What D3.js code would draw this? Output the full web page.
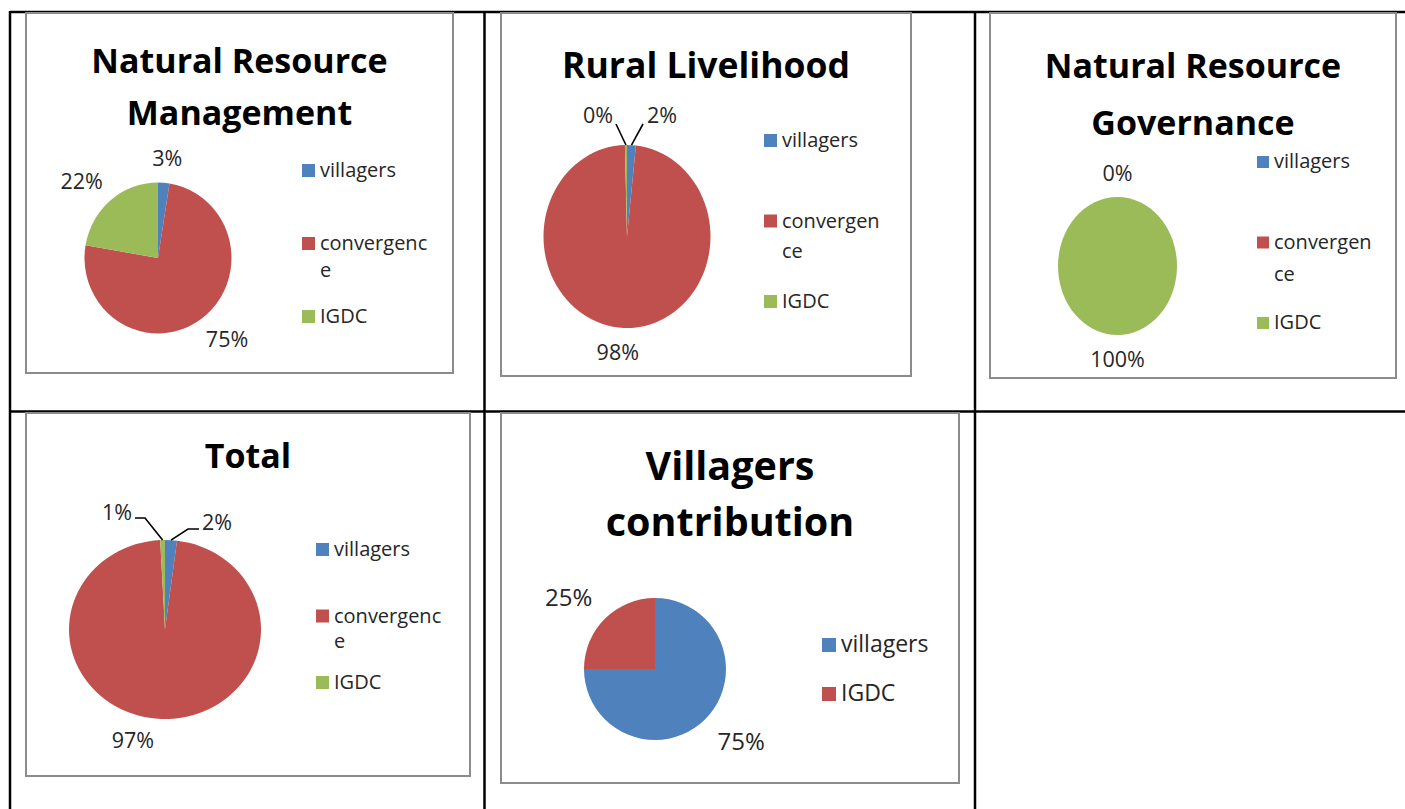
<!DOCTYPE html>
<html>
<head>
<meta charset="utf-8">
<script src="https://cdnjs.cloudflare.com/ajax/libs/d3/7.8.5/d3.min.js"></script>
<style>
  body { margin: 0; background: #fff; }
  svg { display: block; }
  text { font-family: "Open Sans", sans-serif; }
</style>
</head>
<body>
<svg id="chart" width="1405" height="809"></svg>
<script>
// shares, in %
var categories3 = ["villagers", "convergence", "IGDC"];
var categories2 = ["villagers", "IGDC"];
var nrmValues = [2.5, 75.2, 22.3];
var ruralValues = [1.7, 97.9, 0.4];
var nrgValues = [0, 0, 100];
var totalValues = [2.0, 97.2, 0.8];
var villagersValues = [75, 25];
var titles = [
    ["Natural Resource", "Management"],
    ["Rural Livelihood"],
    ["Natural Resource", "Governance"],
    ["Total"],
    ["Villagers", "contribution"]
];
var palette = ["#4F81BD", "#C0504D", "#9BBB59"];

// layout of each panel (boxes, pie centres, legend spots)
var panels = [
    { cats: categories3, values: nrmValues, title: titles[0],
      box: [26, 13, 453, 373], cx: 158, cy: 258, rx: 73.5, ry: 75.5,
      titleY: 73, titleStep: 52, titleSize: 34, pad: 17, labelSize: 21.5,
      legend: { x: 302, y: 177, step: 73, lineH: 27, wrap: 10, size: 20, box: 13 } },
    { cats: categories3, values: ruralValues, title: titles[1],
      box: [501, 13, 911, 376], cx: 627, cy: 236.5, rx: 83.5, ry: 91.5,
      titleY: 78, titleStep: 52, titleSize: 35.5, pad: 16, labelSize: 21.5,
      legend: { x: 764, y: 147, step: 80.5, lineH: 30, wrap: 9, size: 20, box: 13 },
      labels: {
          0: { dx: 35, dy: -121.5, leader: [[-19, 9]] },
          1: { nudge: [-4, 0] },
          2: { dx: -29, dy: -121.5, leader: [[18, 9]] }
      } },
    { cats: categories3, values: nrgValues, title: titles[2],
      box: [990, 13, 1396, 378], cx: 1117.5, cy: 266, rx: 59.5, ry: 69,
      titleY: 78, titleStep: 57, titleSize: 34, pad: 16, labelSize: 21.5,
      legend: { x: 1257, y: 168, step: 80.5, lineH: 32, wrap: 9, size: 20, box: 12 } },
    { cats: categories3, values: totalValues, title: titles[3],
      box: [26, 413, 470, 776], cx: 165, cy: 629.5, rx: 96, ry: 89.5,
      titleY: 468, titleStep: 52, titleSize: 34, pad: 13, labelSize: 21.5,
      legend: { x: 316, y: 556, step: 66.5, lineH: 25, wrap: 10, size: 20, box: 13 },
      labels: {
          0: { dx: 52, dy: -107.5, leader: [[-29, 7], [-18, 7]] },
          1: { nudge: [-27, 0] },
          2: { dx: -48, dy: -117.5, leader: [[28, 6], [18, 6]] }
      } },
    { cats: categories2, values: villagersValues, title: titles[4],
      box: [501, 413, 959, 783], cx: 655, cy: 669, rx: 71, ry: 71,
      titleY: 480, titleStep: 56, titleSize: 39.5, pad: 23, labelSize: 24,
      legend: { x: 822, y: 652, step: 49, lineH: 28, wrap: 12, size: 23, box: 14 } }
];

var svg = d3.select("#chart");

// table grid
var grid = svg.append("g").attr("class", "grid")
    .attr("stroke", "#000").attr("stroke-width", 2.5);
grid.append("line").attr("x1", 10).attr("x2", 1405).attr("y1", 12).attr("y2", 12);
grid.append("line").attr("x1", 10).attr("x2", 1405).attr("y1", 411.5).attr("y2", 411.5);
[10, 484.5, 975].forEach(function(x) {
    grid.append("line").attr("x1", x).attr("x2", x).attr("y1", 11).attr("y2", 809);
});

var pie = d3.pie().sort(null).value(function(d) { return d.value; });

panels.forEach(function(p) {
    var g = svg.append("g");
    var b = p.box;

    g.append("rect")
        .attr("x", b[0]).attr("y", b[1])
        .attr("width", b[2] - b[0]).attr("height", b[3] - b[1])
        .attr("fill", "#fff").attr("stroke", "#8c8c8c").attr("stroke-width", 2);

    // title
    var midX = (b[0] + b[2]) / 2;
    g.selectAll("text.title")
        .data(p.title)
        .enter().append("text")
        .attr("class", "title")
        .attr("x", midX)
        .attr("y", function(d, i) { return p.titleY + i * p.titleStep; })
        .attr("text-anchor", "middle")
        .attr("font-weight", 700)
        .attr("font-size", p.titleSize)
        .attr("fill", "#000")
        .text(function(d) { return d; });

    var rows = p.cats.map(function(c, i) { return { name: c, value: p.values[i], idx: i }; });
    var total = d3.sum(rows, function(d) { return d.value; });
    var arcs = pie(rows);

    var arc = d3.arc().innerRadius(0).outerRadius(p.rx);
    g.append("g")
        .attr("transform", "translate(" + p.cx + "," + p.cy + ") scale(1," + (p.ry / p.rx) + ")")
        .selectAll("path")
        .data(arcs)
        .enter().append("path")
        .attr("d", arc)
        .attr("fill", function(d) { return palette[d.data.idx]; });

    // data labels (labels that land on the same spot are drawn once)
    var over = p.labels || {};
    var seen = {};
    arcs.forEach(function(a) {
        var mid = (a.startAngle + a.endAngle) / 2;
        var s = Math.sin(mid), c = Math.cos(mid);
        var o = over[a.data.idx] || {};
        var lx, ly;
        if (o.dx !== undefined) {
            lx = p.cx + o.dx;
            ly = p.cy + o.dy;
        } else {
            lx = p.cx + (p.rx + p.pad + 28) * s;
            ly = p.cy - (p.ry + p.pad + 8) * c;
            if (o.nudge) { lx += o.nudge[0]; ly += o.nudge[1]; }
        }
        var txt = Math.round(a.data.value / total * 100) + "%";
        var key = txt + "@" + Math.round(lx) + "," + Math.round(ly);
        if (seen[key]) return;
        seen[key] = true;

        g.append("text")
            .attr("x", lx).attr("y", ly).attr("dy", "0.36em")
            .attr("text-anchor", "middle")
            .attr("font-size", p.labelSize)
            .attr("fill", "#262626")
            .text(txt);

        if (o.leader) {
            var pts = [[p.cx + p.rx * s, p.cy - p.ry * c]];
            o.leader.forEach(function(q) { pts.push([lx + q[0], ly + q[1]]); });
            g.append("path")
                .attr("d", d3.line()(pts))
                .attr("fill", "none")
                .attr("stroke", "#000")
                .attr("stroke-width", 1.6);
        }
    });

    // legend
    var L = p.legend;
    var items = g.selectAll("g.legend")
        .data(rows)
        .enter().append("g")
        .attr("class", "legend")
        .attr("transform", function(d, i) { return "translate(" + L.x + "," + (L.y + i * L.step) + ")"; });

    items.append("rect")
        .attr("x", 0).attr("y", -L.box)
        .attr("width", L.box).attr("height", L.box)
        .attr("fill", function(d) { return palette[d.idx]; });

    items.each(function(d) {
        var parts = [];
        for (var k = 0; k < d.name.length; k += L.wrap) parts.push(d.name.slice(k, k + L.wrap));
        d3.select(this).selectAll("text")
            .data(parts)
            .enter().append("text")
            .attr("x", L.box + 5)
            .attr("y", function(t, j) { return j * L.lineH; })
            .attr("font-size", L.size)
            .attr("fill", "#262626")
            .text(function(t) { return t; });
    });
});
</script>
</body>
</html>
